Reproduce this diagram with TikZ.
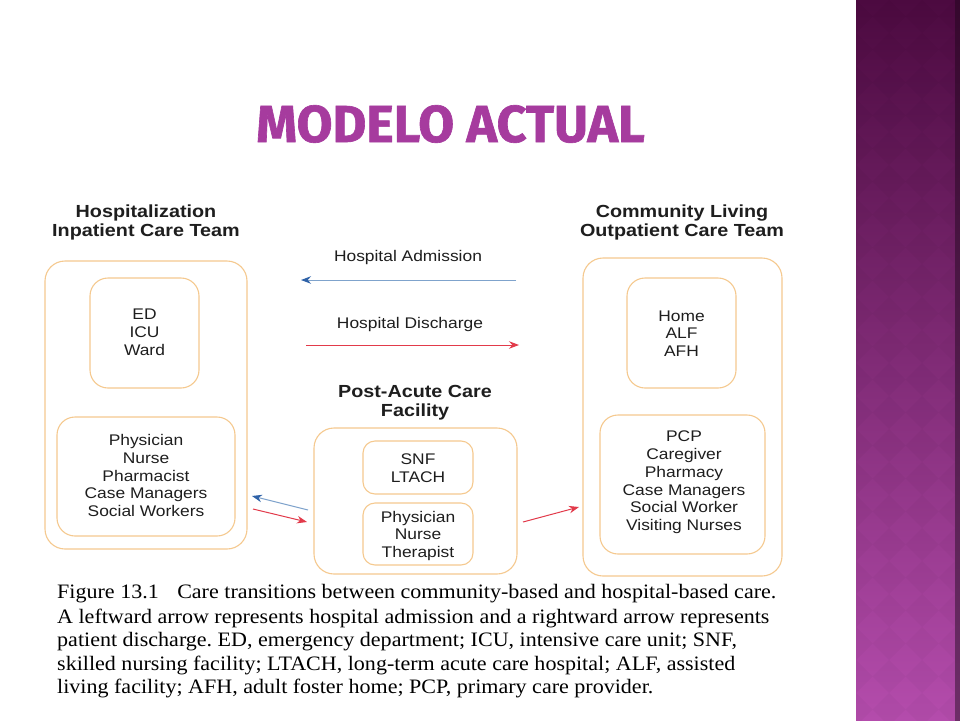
\documentclass[tikz,border=0pt]{standalone}
\usepackage{fontspec}
\setmainfont{Liberation Serif}
\newfontfamily\diagfont[FakeStretch=1.13]{Liberation Sans}
\newfontfamily\titlefont[FakeBold=1.2]{Fira Sans}
\newfontfamily\capfont[FakeStretch=1.075]{Liberation Serif}
\usetikzlibrary{arrows.meta}
\frenchspacing
\definecolor{boxorange}{HTML}{F5C98F}
\definecolor{txtdark}{HTML}{1E1E1E}
\definecolor{admblue}{HTML}{7FA3CC}
\definecolor{admbluehead}{HTML}{2F62A8}
\definecolor{disred}{HTML}{E23A4A}
\definecolor{titlemag}{HTML}{A63B9E}
\definecolor{paneltop}{HTML}{4C0A40}
\definecolor{panelbot}{HTML}{B44CAC}
\tikzset{
  outerbox/.style={draw=boxorange, line width=1.1pt, rounded corners=20pt, inner sep=0pt},
  innerbox/.style={draw=boxorange, line width=1.1pt, rounded corners=18pt, inner sep=0pt},
  smallbox/.style={draw=boxorange, line width=1.1pt, rounded corners=12pt, inner sep=0pt},
  regtext/.style={text=txtdark, align=center, inner sep=0pt,
    font=\diagfont\fontsize{15.4}{17.8}\selectfont},
  headtext/.style={text=txtdark, align=center, inner sep=0pt,
    font=\diagfont\bfseries\fontsize{17.5}{19}\selectfont},
  captext/.style={text=black, anchor=west, inner sep=0pt,
    font=\capfont\fontsize{20.5}{23}\selectfont},
  admarrow/.style={draw=admblue, line width=1pt, -{Stealth[length=10pt,width=7.5pt,color=admbluehead]}},
  disarrow/.style={draw=disred, line width=1pt, -{Stealth[length=10pt,width=7.5pt,color=disred]}}
}
\begin{document}
\begin{tikzpicture}[x=1pt,y=-1pt]
\useasboundingbox (0,0) rectangle (960,720);
\fill[white] (0,0) rectangle (960,720);
% right decorative panel
\shade[top color=paneltop, bottom color=panelbot] (856,0) rectangle (960,720);
\begin{scope}
  \clip (856,0) rectangle (956,720);
  \foreach \i in {0,...,4}{
    \foreach \j in {0,...,22}{
      \fill[black, opacity=0.025] (856+\i*33,\j*33) -- ++(16.5,16.5) -- ++(-16.5,16.5) -- ++(-16.5,-16.5) -- cycle;
    }
  }
\end{scope}
\shade[top color=paneltop!70!black, bottom color=panelbot!60!black] (955,0) rectangle (960,720);

% title
\node[text=titlemag, inner sep=0pt, font=\titlefont\bfseries\fontsize{52}{60}\selectfont] (title) at (450.5,124) {MODELO ACTUAL};

% headings
\node[headtext] (hosphead) at (146,222) {Hospitalization\\Inpatient Care Team};
\node[headtext] (commhead) at (682,222) {Community Living\\Outpatient Care Team};
\node[headtext] (posthead) at (415,402.5) {Post-Acute Care\\Facility};

% left group
\node[outerbox, minimum width=202pt, minimum height=288pt] (hospout) at (146,405) {};
\node[innerbox, minimum width=109pt, minimum height=110pt] (edbox) at (144.5,333) {};
\node[regtext] (edtext) at (144.5,332) {ED\\ICU\\Ward};
\node[innerbox, minimum width=178pt, minimum height=119pt] (teambox) at (146,476.5) {};
\node[regtext] (teamtext) at (146,475.5) {Physician\\Nurse\\Pharmacist\\Case Managers\\Social Workers};

% middle group
\node[outerbox, minimum width=203pt, minimum height=146pt] (postout) at (415.5,501) {};
\node[smallbox, minimum width=110pt, minimum height=53pt] (snfbox) at (418,467.5) {};
\node[regtext] (snftext) at (418,468.5) {SNF\\LTACH};
\node[smallbox, minimum width=110pt, minimum height=62pt] (ptbox) at (418,534) {};
\node[regtext] (pttext) at (418,536) {Physician\\Nurse\\Therapist};

% right group
\node[outerbox, minimum width=199pt, minimum height=318pt] (commout) at (682.5,417) {};
\node[innerbox, minimum width=109pt, minimum height=110pt] (homebox) at (681.5,333) {};
\node[regtext] (hometext) at (681.5,333.5) {Home\\ALF\\AFH};
\node[innerbox, minimum width=165pt, minimum height=139pt] (pcpbox) at (682.5,484.5) {};
\node[regtext] (pcptext) at (684,482.5) {PCP\\Caregiver\\Pharmacy\\Case Managers\\Social Worker\\Visiting Nurses};

% arrows
\node[regtext] (admlabel) at (408,258) {Hospital Admission};
\node[regtext] (dislabel) at (410,325) {Hospital Discharge};
\coordinate (admS) at (516,280);
\coordinate (admE) at (301,280);
\coordinate (disS) at (306,345);
\coordinate (disE) at (519,345);
\draw[admarrow] (admS) -- (admE);
\draw[disarrow] (disS) -- (disE);
\coordinate (b1S) at (308,510);
\coordinate (b1E) at (252,496);
\coordinate (r1S) at (253,509);
\coordinate (r1E) at (307,522);
\coordinate (r2S) at (523,522);
\coordinate (r2E) at (579,507);
\draw[admarrow] (b1S) -- (b1E);
\draw[disarrow] (r1S) -- (r1E);
\draw[disarrow] (r2S) -- (r2E);

% caption
\node[captext] (cap1) at (57,594) {Figure 13.1\hspace{0.9em}Care transitions between community-based and hospital-based care.};
\node[captext] (cap2) at (57,618) {A leftward arrow represents hospital admission and a rightward arrow represents};
\node[captext] (cap3) at (57,642) {patient discharge. ED, emergency department; ICU, intensive care unit; SNF,};
\node[captext] (cap4) at (57,665) {skilled nursing facility; LTACH, long-term acute care hospital; ALF, assisted};
\node[captext] (cap5) at (57,688) {living facility; AFH, adult foster home; PCP, primary care provider.};
\end{tikzpicture}
\end{document}
